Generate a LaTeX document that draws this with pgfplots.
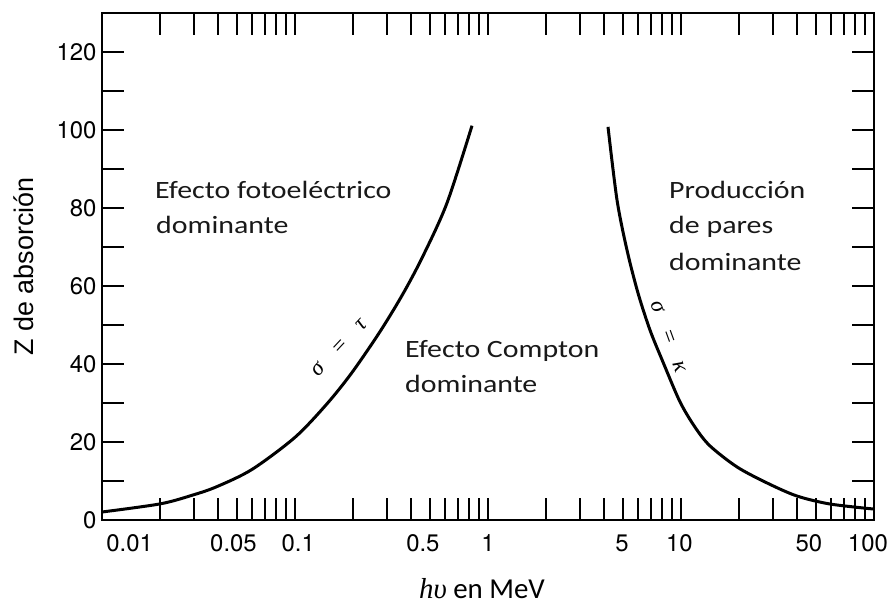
\documentclass[border=0pt]{standalone}
\usepackage{fontspec}
\usepackage{pgfplots}
\pgfplotsset{compat=1.18}
\setmainfont{Carlito}
\newfontfamily\tickfont{TeX Gyre Heros}
\newfontfamily\labfont[FakeStretch=1.2]{Carlito}
\newfontfamily\yfont{Liberation Sans}
\newfontfamily\itserif{Liberation Serif}

% Boundary curves (photon energy in MeV, atomic number Z)
\pgfplotstableread{
E       Z
0.01    2.05
0.02    4.13
0.0296  6.41
0.0394  8.56
0.0599  12.97
0.1     21.2
0.1465  29.8
0.1973  37.8
0.2757  48.3
0.3627  58.0
0.4605  67.7
0.6133  81.3
0.8262  101.1
}\photocompton

\pgfplotstableread{
E       Z
4.186   100.8
4.661   82.05
5.251   69.2
5.987   58.2
6.908   48.7
8.067   40.5
9.88    30.3
11.82   23.8
14.13   19.0
19.51   13.6
27.9    9.5
39.9    6.15
59.2    4.1
100     2.8
}\comptonpair

\begin{document}
\begin{tikzpicture}
\useasboundingbox (-102bp,-87bp) rectangle (794bp,520bp);
\begin{axis}[
  scale only axis,
  width=772bp, height=507bp,
  at={(0,0)}, anchor=south west,
  xmode=log,
  xmin=0.01, xmax=100,
  ymin=0, ymax=130,
  axis line style={line width=2.5bp, black},
  tick style={line width=1.8bp, black},
  tick align=inside,
  major tick length=22bp,
  minor tick length=22bp,
  xtick={0.01,0.1,1,10,100},
  xticklabels={},
  ytick={0,20,40,60,80,100,120},
  minor ytick={10,30,50,70,90,110},
  /pgf/number format/assume math mode=true,
  yticklabel style={font=\tickfont\fontsize{24}{24}\selectfont, xshift=-2bp},
  extra x ticks={0.0139,0.048,0.104,0.46,1,4.95,9.8,46,93},
  extra x tick labels={0.01,0.05,0.1,0.5,1,5,10,50,100},
  extra x tick style={grid=none, major tick length=0pt,
    xticklabel style={font=\tickfont\fontsize{24}{24}\selectfont, yshift=-11bp}},
  ylabel={Z de absorción},
  ylabel style={at={(axis description cs:-0.101,0.5)}, anchor=center,
    font=\yfont\fontsize{27}{27}\selectfont},
  xlabel={{\itserif\itshape hυ} en MeV},
  xlabel style={at={(axis description cs:0.4922,-0.136)}, anchor=center,
    font=\fontsize{29}{29}\selectfont},
  clip=false,
]
\addplot[black, line width=3bp, smooth, tension=0.5] table[x=E, y=Z] {\photocompton};
\addplot[black, line width=3bp, smooth, tension=0.5] table[x=E, y=Z] {\comptonpair};

% Region labels
\begin{scope}[every node/.style={font=\labfont\fontsize{25}{30}\selectfont, text=black!90, inner sep=0pt}]
\node[anchor=base west] at (rel axis cs:0.0687,0.635) {Efecto fotoeléctrico};
\node[anchor=base west] at (rel axis cs:0.0700,0.566) {dominante};
\node[anchor=base west] at (rel axis cs:0.3925,0.320) {Efecto Compton};
\node[anchor=base west] at (rel axis cs:0.3925,0.251) {dominante};
\node[anchor=base west] at (rel axis cs:0.7345,0.635) {Producción};
\node[anchor=base west] at (rel axis cs:0.7345,0.566) {de pares};
\node[anchor=base west] at (rel axis cs:0.7345,0.493) {dominante};
\end{scope}

% Curve labels, set alongside each boundary
\node[rotate=47, font=\itserif\itshape\fontsize{23}{23}\selectfont, inner sep=0pt]
  at (rel axis cs:0.307,0.340) {σ\hspace{0.8em}=\hspace{0.8em}τ};
\node[rotate=-70, font=\itserif\itshape\fontsize{23}{23}\selectfont, inner sep=0pt]
  at (rel axis cs:0.734,0.362) {σ\hspace{0.8em}=\hspace{0.8em}κ};
\end{axis}
\end{tikzpicture}
\end{document}
